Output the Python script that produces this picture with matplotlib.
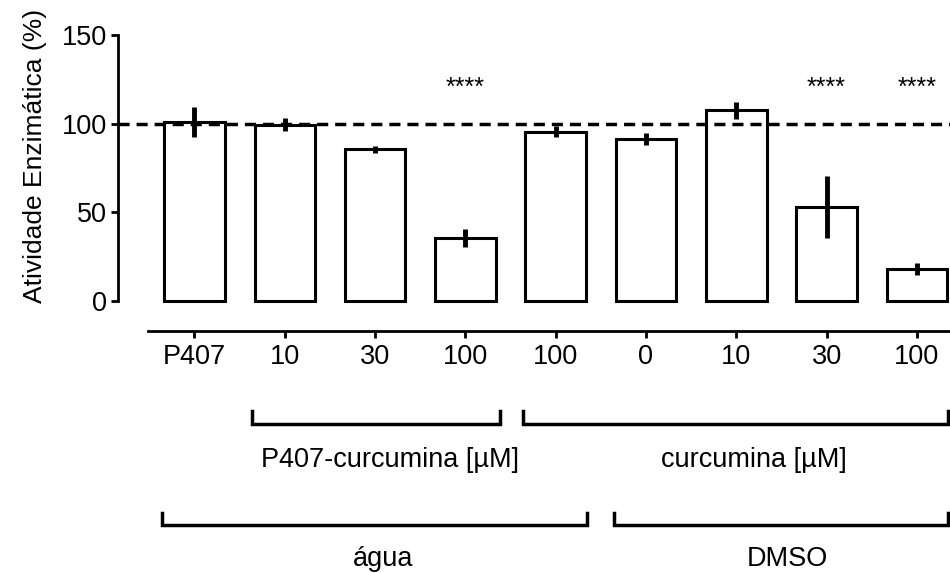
import numpy as np
import matplotlib.pyplot as plt

plt.rcParams['font.family'] = ['Liberation Sans', 'DejaVu Sans']
plt.rcParams['font.size'] = 19.5

# Data
tick_labels = ['P407', '10', '30', '100', '100', '0', '10', '30', '100']
atividade = [101, 99.5, 85.5, 35.5, 95.5, 91.5, 107.5, 53, 18]
erro = [8.5, 3.8, 1.9, 5.0, 3.0, 3.4, 4.6, 17.6, 3.6]
sig_idx = [3, 7, 8]
sig_text = '****'

# group brackets: (start, end, label, label centre) in bar-index units
grupos_1 = [(0.64, 3.38, 'P407-curcumina [µM]', 2.17),
            (3.64, 8.34, 'curcumina [µM]', 6.19)]
grupos_2 = [(-0.36, 4.35, 'água', 2.09),
            (4.65, 8.34, 'DMSO', 6.57)]

x = np.arange(len(atividade))

fig = plt.figure(figsize=(9.5, 5.73), dpi=100)
ax = fig.add_axes([118 / 950, 1 - 331.1 / 573, 832 / 950, (331.1 - 35) / 573])

ax.bar(x, atividade, width=0.67, color='white', edgecolor='black',
       linewidth=2.2, zorder=2)
ax.errorbar(x, atividade, yerr=erro, fmt='none', ecolor='black',
            elinewidth=3.5, capsize=0, zorder=3)

# reference line at 100 %
ax.axhline(100, color='black', linestyle=(0, (3.2, 2.0)), linewidth=2.5,
           zorder=4)

for i in sig_idx:
    ax.text(x[i], 120, sig_text, ha='center', va='center', fontsize=18)

ax.set_xlim(-0.847, 8.367)
ax.set_ylim(-17, 150)
ax.set_yticks([0, 50, 100, 150])
ax.set_xticks(x)
ax.set_xticklabels(tick_labels)

for s in ['top', 'right']:
    ax.spines[s].set_visible(False)
ax.spines['left'].set_bounds(0, 150)
ax.spines['bottom'].set_bounds(-0.515, 8.367)
ax.spines['left'].set_linewidth(2.0)
ax.spines['bottom'].set_linewidth(2.0)
ax.tick_params(axis='both', direction='out', length=5, width=2.0)
ax.tick_params(axis='x', pad=4)
ax.tick_params(axis='y', pad=3)

ax.set_ylabel('Atividade Enzimática (%)', fontsize=19)
ax.yaxis.set_label_coords(-0.085, 0.592)


def bracket(x0, x1, y, h, text, tx, ty):
    ax.plot([x0, x0, x1, x1], [y + h, y, y, y + h], color='black',
            linewidth=2.5, clip_on=False, solid_joinstyle='miter')
    ax.text(tx, ty, text, ha='center', va='center', clip_on=False)


for x0, x1, lab, tx in grupos_1:
    bracket(x0, x1, -69.4, 7.4, lab, tx, -89.5)
for x0, x1, lab, tx in grupos_2:
    bracket(x0, x1, -126.3, 6.8, lab, tx, -145.5)

fig.savefig('out.png', dpi=100)
